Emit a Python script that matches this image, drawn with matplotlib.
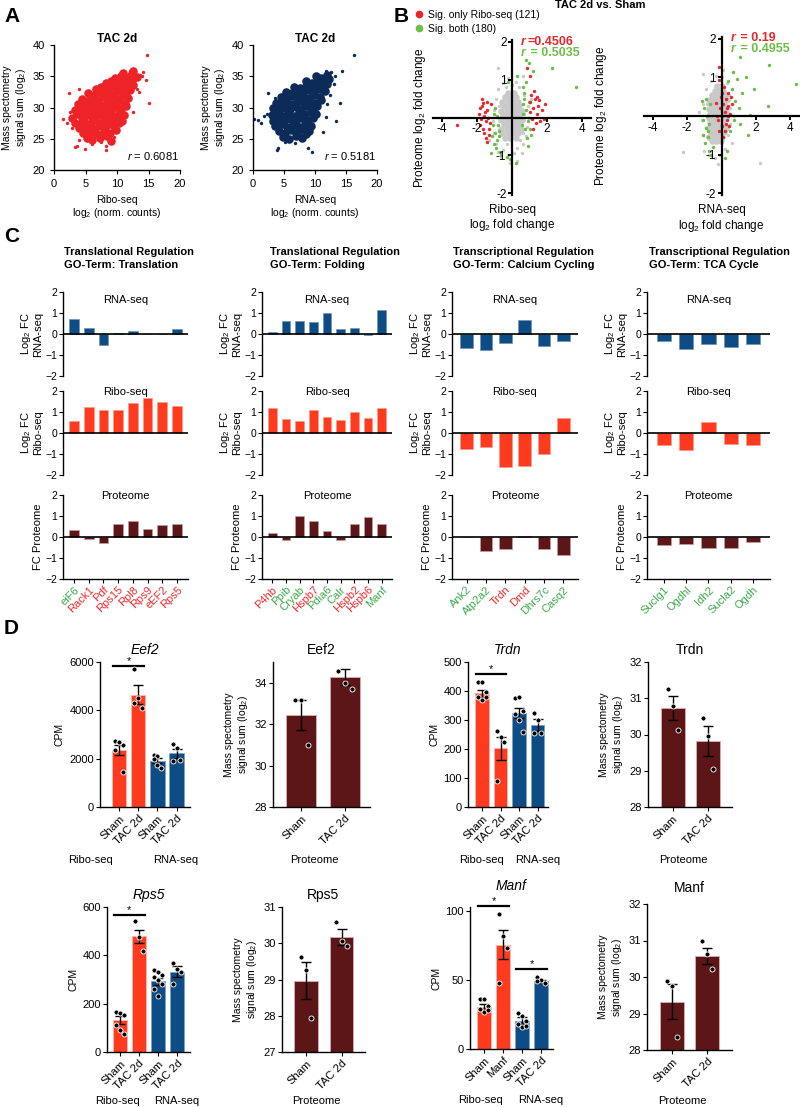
import numpy as np
import matplotlib.pyplot as plt
from matplotlib.lines import Line2D

plt.rcParams["font.family"] = ["Liberation Sans", "DejaVu Sans"]
plt.rcParams["mathtext.fontset"] = "custom"
plt.rcParams["mathtext.rm"] = "Liberation Sans"
plt.rcParams["mathtext.it"] = "Liberation Sans:italic"
plt.rcParams["mathtext.bf"] = "Liberation Sans:bold"
plt.rcParams["mathtext.bfit"] = "Liberation Sans:bold:italic"
plt.rcParams["axes.linewidth"] = 1.0

# ── colours ────────────────────────────────────────────────
RED = "#FF3B1F"
BLUE = "#0E4C85"
MAROON = "#5C1618"
SC_RED = "#EE2327"
SC_NAVY = "#0D2B58"
GREY = "#C9C9C9"
SIG_RED = "#E8262B"
SIG_GREEN = "#6CBE45"
TXT_GREEN = "#3BAA4A"
TXT_RED = "#EE2B2B"

# ── A: proteome vs Ribo-seq / RNA-seq (x,y pairs) ──
ribo_core = """5.2,25.1 6.1,24.8 7.3,25.2 8.4,25.4 9.0,24.6 4.6,25.9 5.7,26.0 6.8,25.7 7.9,26.1 8.9,26.0 9.8,26.4
3.9,26.7 4.9,26.5 5.6,27.0 6.4,26.6 7.2,27.1 8.1,26.8 8.8,27.3 9.6,27.0 10.3,27.5 3.3,27.6 4.1,27.3 4.8,27.9
5.9,27.5 6.7,28.0 7.6,27.6 8.3,28.1 9.2,27.8 10.0,28.3 10.8,27.9 2.9,28.4 3.7,28.9 4.5,28.3 5.2,28.8 6.1,28.5
6.9,29.0 7.8,28.6 8.6,29.1 9.4,28.7 10.3,29.2 11.1,28.8 3.4,29.6 4.2,29.3 5.0,29.8 5.8,29.4 6.6,29.9 7.4,29.5
8.2,30.0 9.0,29.6 9.9,30.1 10.7,29.7 11.5,30.2 3.8,30.5 4.6,30.2 5.4,30.7 6.2,30.3 7.0,30.8 7.9,30.4 8.7,30.9
9.5,30.5 10.3,31.0 11.2,30.6 4.5,31.4 5.3,31.1 6.1,31.6 6.9,31.2 7.7,31.7 8.5,31.3 9.3,31.8 10.1,31.4 10.9,31.9
11.8,31.5 5.4,32.3 6.3,32.0 7.1,32.5 7.9,32.1 8.8,32.6 9.6,32.2 10.4,32.7 11.3,32.3 12.1,32.8 6.6,33.0 7.5,33.3
8.3,32.9 9.1,33.4 10.0,33.0 10.8,33.5 11.7,33.1 12.5,33.6 8.2,33.9 9.1,34.2 9.9,33.8 10.7,34.3 11.6,34.0
12.4,34.4 9.7,34.7 10.6,35.0 11.4,34.7 12.2,35.2 13.1,34.9 11.0,35.6 12.6,35.8"""
ribo_outliers = """14.8,38.4 15.0,30.8 1.4,28.1 2.4,32.4 3.3,23.7 4.9,23.3 8.2,23.2 8.2,23.8 14.2,35.7 14.6,34.4
12.1,35.9 12.9,35.5 13.6,35.2 11.5,31.2 12.6,29.3 11.0,32.3 2.5,29.3 2.9,26.8 3.9,24.8 6.0,24.2 7.4,24.5
9.6,25.3 13.2,33.0 14.0,35.0 13.5,32.5 2.0,27.5 4.0,33.0 3.6,23.8"""
rna_core = """4.8,25.3 5.8,25.0 6.9,25.4 7.9,25.1 8.6,25.8 4.2,26.2 5.2,26.0 6.2,26.4 7.2,26.1 8.2,26.5 9.1,26.3
3.6,27.0 4.6,27.3 5.5,26.9 6.5,27.2 7.5,26.9 8.4,27.4 9.4,27.1 3.2,27.9 4.1,28.1 5.0,27.8 6.0,28.2 6.9,27.9
7.9,28.3 8.8,28.0 9.7,28.4 3.0,28.8 3.9,29.1 4.8,28.7 5.7,29.0 6.6,28.7 7.5,29.2 8.4,28.9 9.3,29.3 10.2,29.0
3.3,29.9 4.2,29.6 5.1,30.0 6.0,29.7 6.9,30.1 7.8,29.8 8.7,30.2 9.6,29.9 10.4,30.3 3.7,30.8 4.6,30.5 5.5,30.9
6.4,30.6 7.3,31.0 8.2,30.7 9.1,31.1 10.0,30.8 10.9,31.2 4.5,31.7 5.4,31.4 6.3,31.8 7.2,31.5 8.1,31.9 9.0,31.6
9.9,32.0 10.8,31.7 5.3,32.5 6.3,32.3 7.2,32.7 8.1,32.4 9.0,32.8 9.9,32.5 10.8,32.9 11.6,32.6 6.6,33.3 7.6,33.1
8.5,33.5 9.4,33.2 10.3,33.6 11.2,33.3 12.0,33.7 8.6,34.2 9.5,34.0 10.4,34.4 11.3,34.1 12.2,34.5 10.1,35.0
11.0,34.8 11.9,35.2"""
rna_outliers = """16.3,38.4 14.3,35.8 14.1,30.7 13.4,27.9 11.3,26.1 8.8,23.5 9.5,22.9 4.0,23.6 3.9,23.2 2.4,32.4
0.8,28.0 0.1,28.1 1.3,27.5 12.6,35.7 11.7,35.9 13.3,35.0 2.2,29.0 1.8,28.6 12.5,32.0 12.0,30.5 6.8,24.3
5.2,24.5 3.5,31.6 11.8,28.5 13.0,33.8"""

# ── B: log2 fold changes, proteome vs Ribo-seq / RNA-seq ──
bl_grey_core = """-0.4,-0.55 -0.1,-0.55 0.2,-0.55 -0.55,-0.42 -0.25,-0.42 0.05,-0.42 0.35,-0.42 -0.6,-0.30 -0.3,-0.30
0.0,-0.30 0.3,-0.30 0.5,-0.30 -0.45,-0.18 -0.15,-0.18 0.15,-0.18 0.4,-0.18 -0.6,-0.06 -0.3,-0.06 0.0,-0.06
0.28,-0.06 0.55,-0.06 -0.5,0.06 -0.2,0.06 0.1,0.06 0.4,0.06 -0.6,0.18 -0.3,0.18 0.0,0.18 0.3,0.18 0.55,0.18
-0.45,0.30 -0.15,0.30 0.15,0.30 0.42,0.30 -0.55,0.42 -0.25,0.42 0.05,0.42 0.35,0.42 -0.4,0.54 -0.1,0.54
0.2,0.54 -0.2,0.66 0.1,0.66"""
bl_grey_halo = """-0.9,-0.7 -0.8,-0.9 -0.5,-0.85 -0.2,-1.0 0.1,-0.95 0.3,-0.8 0.6,-0.7 0.8,-0.5 -1.0,-0.4 -1.1,-0.1
-1.0,0.2 -0.9,0.5 -0.8,0.75 -0.5,0.9 -0.2,1.05 0.2,0.95 0.4,0.8 0.7,0.6 0.9,0.3 0.95,0.0 0.85,-0.25
-0.78,1.32 -0.35,0.8 0.55,-0.95 -0.65,-1.05 0.3,-1.15 -0.1,-1.2 1.1,0.5 -1.3,-0.6 0.6,1.1 -0.7,-0.3 0.7,0.1
-0.75,0.3 0.65,-0.4 -0.3,-0.7 0.0,0.85 0.45,-0.6"""
bl_red = """-1.9,0.1 -1.7,0.3 -1.6,0.05 -1.5,-0.1 -1.8,-0.2 -1.4,0.2 -1.3,-0.3 -1.6,-0.4 -1.5,-0.55 -1.75,-0.05
-1.35,0.0 -1.45,0.4 -1.25,-0.15 -1.55,0.15 -1.65,-0.3 -1.4,-0.65 -1.2,0.35 -1.7,0.5 -1.64,0.39 -3.16,-0.2
-1.3,-0.45 -1.85,0.25 1.1,0.6 1.3,0.5 1.5,0.3 1.2,0.25 1.4,0.1 1.6,-0.1 1.05,0.4 1.7,0.2 1.25,0.7 1.45,0.55
1.8,-0.05 1.35,-0.15 1.0,0.15 1.55,0.45 1.15,-0.05 0.84,1.32 1.03,1.1 1.9,0.35 1.2,-0.3"""
bl_green = """-1.1,-0.2 -0.95,-0.4 -1.05,0.1 -0.85,-0.6 -0.9,-0.8 -0.75,-0.5 -1.0,-0.7 -0.8,-0.2 -0.7,-0.9
-0.95,0.25 -1.15,-0.5 -0.85,0.05 -0.6,-1.0 -1.2,-0.95 -0.75,-0.35 0.6,0.8 0.7,0.5 0.8,0.2 0.9,-0.1
0.75,-0.3 0.95,0.4 0.65,0.1 0.85,-0.55 1.0,-0.3 0.7,0.65 0.55,-0.2 1.1,-0.45 0.8,0.95 0.9,-0.75 0.6,0.35
0.8,1.51 0.99,1.45 2.27,1.32 3.66,0.81 1.22,1.23 0.3,1.1 -0.2,0.95 0.2,-1.2 -0.3,-1.05 -0.1,-1.1"""
br_grey_core = """-0.55,-0.66 -0.3,-0.66 -0.05,-0.66 -0.7,-0.54 -0.45,-0.54 -0.2,-0.54 0.05,-0.54 -0.6,-0.42 -0.35,-0.42
-0.1,-0.42 0.15,-0.42 -0.75,-0.30 -0.5,-0.30 -0.25,-0.30 0.0,-0.30 0.25,-0.30 -0.65,-0.18 -0.4,-0.18
-0.15,-0.18 0.1,-0.18 -0.75,-0.06 -0.5,-0.06 -0.25,-0.06 0.0,-0.06 0.25,-0.06 -0.65,0.06 -0.4,0.06
-0.15,0.06 0.1,0.06 0.3,0.06 -0.75,0.18 -0.5,0.18 -0.25,0.18 0.0,0.18 0.25,0.18 -0.6,0.30 -0.35,0.30
-0.1,0.30 0.15,0.30 -0.7,0.42 -0.45,0.42 -0.2,0.42 0.05,0.42 0.3,0.42 -0.55,0.54 -0.3,0.54 -0.05,0.54
0.2,0.54 -0.4,0.66 -0.15,0.66 0.1,0.66 -0.25,0.78 0.0,0.78"""
br_grey_halo = """-1.0,-0.9 -0.7,-1.0 -0.4,-1.1 -0.1,-1.0 0.2,-0.85 0.4,-0.5 0.5,-0.2 0.5,0.2 0.45,0.55 0.3,0.85
0.05,1.0 -0.3,1.05 -0.6,0.9 -0.9,0.7 -1.05,0.3 -1.15,-0.1 -1.1,-0.5 -1.1,1.08 -2.26,-0.94 2.25,-1.23
-0.2,-1.25 0.1,1.2 0.7,0.0 -1.3,0.1 0.6,-0.7 -0.9,-0.3 -0.85,0.3"""
br_red = """0.0,0.0 0.2,0.1 0.1,0.3 0.3,-0.1 -0.1,0.2 0.25,0.45 0.4,0.25 0.05,-0.25 0.35,0.6 -0.2,-0.1 0.15,0.75
0.5,0.05 -0.05,0.5 0.2,-0.4 0.45,-0.25 -0.3,0.35 0.6,0.3 0.1,-0.55 -0.13,1.28 -0.13,0.93 0.3,0.2
-0.15,-0.4 0.0,0.6 0.25,-0.2 0.55,0.5 -0.25,0.0 0.35,0.0"""
br_green = """-1.1,-0.1 -0.9,-0.3 -1.0,0.2 -0.8,-0.55 -0.95,-0.7 -0.75,-0.9 -0.85,0.0 -1.15,0.4 -0.7,-0.2
-0.9,0.45 -0.6,-1.0 -0.8,-0.4 -1.05,-0.5 -0.5,-0.8 -0.65,0.3 0.4,0.9 0.6,0.7 0.8,0.4 1.0,0.2 0.7,-0.1
0.9,0.95 1.2,0.6 0.5,-0.4 1.1,-0.2 0.65,1.15 1.08,1.52 2.73,1.32 4.33,0.82 2.68,0.27 1.51,-0.49
1.63,0.03 1.4,1.0 0.3,-0.9 0.2,-1.1 1.9,0.7"""

# ── C: log2 fold changes per GO term ──
c_titles = ["Translational Regulation\nGO-Term: Translation",
            "Translational Regulation\nGO-Term: Folding",
            "Transcriptional Regulation\nGO-Term: Calcium Cycling",
            "Transcriptional Regulation\nGO-Term: TCA Cycle"]

genes_translation = ["eiF6", "Rack1", "Pdf", "Rps15", "Rpl8", "Rps9", "eEF2", "Rps5"]
sig_translation = ["g", "r", "r", "r", "r", "r", "r", "r"]
rna_translation = [0.7, 0.3, -0.5, 0.05, 0.15, 0.0, 0.0, 0.22]
ribo_translation = [0.55, 1.22, 1.1, 1.1, 1.42, 1.65, 1.48, 1.28]
prot_translation = [0.32, -0.1, -0.28, 0.6, 0.78, 0.38, 0.58, 0.6]

genes_folding = ["P4hb", "Ppib", "Cryab", "Hspb7", "Pdia6", "Calr", "Hspb2", "Hspb6", "Manf"]
sig_folding = ["r", "g", "g", "r", "g", "g", "r", "r", "g"]
rna_folding = [0.1, 0.6, 0.6, 0.58, 1.02, 0.22, 0.28, -0.05, 1.15]
ribo_folding = [1.2, 0.68, 0.58, 1.08, 0.76, 0.62, 1.0, 0.7, 1.18]
prot_folding = [0.2, -0.12, 1.0, 0.75, 0.3, -0.15, 0.6, 0.97, 0.62]

genes_calcium = ["Ank2", "Atp2a2", "Trdn", "Dmd", "Dhrs7c", "Casq2"]
sig_calcium = ["g", "g", "r", "r", "g", "g"]
rna_calcium = [-0.68, -0.78, -0.42, 0.65, -0.55, -0.35]
ribo_calcium = [-0.75, -0.65, -1.6, -1.55, -1.02, 0.72]
prot_calcium = [0.02, -0.65, -0.58, 0.05, -0.55, -0.88]

genes_tca = ["Suclg1", "Ogdhl", "Idh2", "Sucla2", "Ogdh"]
sig_tca = ["g", "g", "g", "g", "g"]
rna_tca = [-0.35, -0.7, -0.48, -0.6, -0.48]
ribo_tca = [-0.58, -0.8, 0.52, -0.5, -0.58]
prot_tca = [-0.4, -0.35, -0.5, -0.52, -0.25]

# ── D: CPM / proteome per gene ──
seq_labels = ["Sham", "TAC 2d", "Sham", "TAC 2d"]
manf_labels = ["Sham", "Manf", "Sham", "TAC 2d"]
prot_labels = ["Sham", "TAC 2d"]

eef2_cpm = [2350, 4650, 1920, 2220]
eef2_cpm_sem = [200, 380, 100, 200]
eef2_cpm_pts = [[2750, 2700, 2550, 2350, 2700, 1450], [5700, 4500, 4100, 4300],
                [2150, 2100, 1600, 2000, 1750], [2600, 2450, 1950, 1900]]
eef2_prot = [32.45, 34.27]
eef2_prot_sem = [0.72, 0.38]
eef2_prot_pts = [[33.15, 33.15, 31.0], [34.55, 34.0, 33.7]]

trdn_cpm = [392, 202, 325, 283]
trdn_cpm_sem = [12, 40, 18, 20]
trdn_cpm_pts = [[430, 430, 395, 380, 370, 378], [262, 240, 225, 88],
                [375, 380, 330, 320, 300, 260], [325, 300, 255, 255]]
trdn_prot = [30.72, 29.82]
trdn_prot_sem = [0.33, 0.42]
trdn_prot_pts = [[31.25, 30.8, 30.12], [30.45, 29.95, 29.05]]

rps5_cpm = [133, 478, 293, 333]
rps5_cpm_sem = [18, 25, 15, 22]
rps5_cpm_pts = [[165, 160, 155, 110, 90, 75], [541, 476, 418],
                [340, 330, 320, 310, 300, 280, 260, 230], [370, 345, 330, 280]]
rps5_prot = [28.97, 30.17]
rps5_prot_sem = [0.5, 0.22]
rps5_prot_pts = [[29.62, 29.25, 27.95], [30.58, 30.05, 29.92]]

manf_cpm = [30.5, 75.5, 20.5, 49]
manf_cpm_sem = [2, 10.5, 2.5, 1.2]
manf_cpm_pts = [[36, 36, 31, 29, 27, 28], [98, 82, 73, 48], [26, 24, 20, 18, 16, 17], [52, 50, 48, 49]]
manf_prot = [29.32, 30.58]
manf_prot_sem = [0.48, 0.22]
manf_prot_pts = [[29.88, 29.75, 28.35], [30.98, 30.62, 30.22]]

W, H = 800, 1107
fig = plt.figure(figsize=(W / 100, H / 100), dpi=100)


def px_axes(x0, y0, x1, y1):
    return fig.add_axes([x0 / W, 1 - y1 / H, (x1 - x0) / W, (y1 - y0) / H])


def pairs(s):
    a = np.array([p.split(",") for p in s.split()], dtype=float)
    return a[:, 0], a[:, 1]


def panel_letter(x, y, s):
    fig.text(x / W, 1 - y / H, s, fontsize=15, fontweight="bold", va="center")


# ── A ──────────────────────────────────────────────────────
panel_letter(4, 17, "A")
for box, core, outl, color, r, xlab in [
    ((54, 45, 180, 170), ribo_core, ribo_outliers, SC_RED, "0.6081", "Ribo-seq\nlog$_2$ (norm. counts)"),
    ((253, 45, 377, 170), rna_core, rna_outliers, SC_NAVY, "0.5181", "RNA-seq\nlog$_2$ (norm. counts)"),
]:
    ax = px_axes(*box)
    cx, cy = pairs(core)
    ox, oy = pairs(outl)
    ax.scatter(cx, cy, s=38, c=color, lw=0)
    ax.scatter(ox, oy, s=6, c=color, lw=0)
    ax.set_xlim(0, 20)
    ax.set_ylim(20, 40)
    ax.set_xticks([0, 5, 10, 15, 20])
    ax.set_yticks([20, 25, 30, 35, 40])
    for sp in ["top", "right"]:
        ax.spines[sp].set_visible(False)
    ax.tick_params(labelsize=8, length=3)
    ax.set_title("TAC 2d", fontsize=8.5, fontweight="bold", pad=1)
    ax.set_ylabel("Mass spectometry\nsignal sum (log$_2$)", fontsize=7.5, labelpad=3)
    ax.set_xlabel(xlab, fontsize=7.5, labelpad=4, linespacing=1.1)
    ax.text(0.99, 0.08, "$r$ = " + r, transform=ax.transAxes, ha="right", fontsize=8)

# ── B ──────────────────────────────────────────────────────
panel_letter(394, 17, "B")
fig.text(600 / W, 1 - 5 / H, "TAC 2d vs. Sham", fontsize=8, fontweight="bold", ha="center", va="center")
handles = [Line2D([], [], ls="none", marker="o", ms=4.5, color=SIG_RED, label="Sig. only Ribo-seq (121)"),
           Line2D([], [], ls="none", marker="o", ms=4.5, color=SIG_GREEN, label="Sig. both (180)")]
fig.legend(handles=handles, loc="upper left", bbox_to_anchor=(415 / W, 1 - 10 / H), frameon=False,
           fontsize=7.5, handletextpad=0.4, borderpad=0, borderaxespad=0, labelspacing=0.35,
           handlelength=0.8)

for box, gcore, ghalo, red, green, xlab, r_red, r_green, rx, ry, lab_x in [
    ((433, 40, 591, 195), bl_grey_core, bl_grey_halo, bl_red, bl_green,
     "Ribo-seq\nlog$_2$ fold change", "=0.4506", " = 0.5035", 520, 42, -0.03),
    ((644, 37, 799, 195), br_grey_core, br_grey_halo, br_red, br_green,
     "RNA-seq\nlog$_2$ fold change", " = 0.19", " = 0.4955", 730, 38, -0.225),
]:
    ax = px_axes(*box)
    x, y = pairs(gcore)
    ax.scatter(x, y, s=22, c=GREY, lw=0)
    x, y = pairs(ghalo)
    ax.scatter(x, y, s=6, c=GREY, lw=0)
    x, y = pairs(green)
    ax.scatter(x, y, s=6, c=SIG_GREEN, lw=0)
    x, y = pairs(red)
    ax.scatter(x, y, s=6, c=SIG_RED, lw=0)
    ax.set_xlim(-4.5, 4.5)
    ax.set_ylim(-2.05, 2.05)
    ax.spines["left"].set_position(("data", 0))
    ax.spines["bottom"].set_position(("data", 0))
    for sp in ["top", "right"]:
        ax.spines[sp].set_visible(False)
    for sp in ["left", "bottom"]:
        ax.spines[sp].set_linewidth(1.6)
        ax.spines[sp].set_zorder(5)
    ax.set_xticks([-4, -2, 2, 4])
    ax.set_yticks([-2, -1, 1, 2])
    ax.set_xticklabels(["-4", "-2", "2", "4"])
    ax.set_yticklabels(["-2", "-1", "1", "2"])
    ax.tick_params(labelsize=8.5, length=3, width=1.4, pad=1)
    ax.set_ylabel("Proteome log$_2$ fold change", fontsize=8.5)
    ax.yaxis.set_label_coords(lab_x, 0.5)
    ax.text(0.5, -0.06, xlab, transform=ax.transAxes, ha="center", va="top", fontsize=8.5,
            linespacing=1.1)
    for txt, col, dy in [(r_red, SIG_RED, 0), (r_green, SIG_GREEN, 11)]:
        t = fig.text(rx / W, 1 - (ry + dy) / H, r"$\mathbfit{r}$", color=col, fontsize=9, va="center")
        ax.annotate(txt, xy=(1, 0.5), xycoords=t, va="center", color=col, fontsize=9, fontweight="bold")

# ── C ──────────────────────────────────────────────────────
panel_letter(4, 237, "C")
col_boxes = [(63, 188), (262, 392), (452, 578), (647, 770)]
title_x = [64, 270, 453, 649]
row_boxes = [(292, 376), (391, 475), (495, 579)]
row_names = ["RNA-seq", "Ribo-seq", "Proteome"]
row_name_y = [0.9, 0.99, 0.99]
row_ylabels = ["Log$_2$ FC\nRNA-seq", "Log$_2$ FC\nRibo-seq", "FC Proteome"]
row_colors = [BLUE, RED, MAROON]
row_edges = ["#6f93b8", "#ff9a8a", "#c99a9a"]
c_cols = [
    (genes_translation, sig_translation, [rna_translation, ribo_translation, prot_translation]),
    (genes_folding, sig_folding, [rna_folding, ribo_folding, prot_folding]),
    (genes_calcium, sig_calcium, [rna_calcium, ribo_calcium, prot_calcium]),
    (genes_tca, sig_tca, [rna_tca, ribo_tca, prot_tca]),
]
for ci, (genes, sig, rows) in enumerate(c_cols):
    fig.text(title_x[ci] / W, 1 - 247 / H, c_titles[ci], fontsize=8, fontweight="bold",
             va="top", ha="left", linespacing=1.35)
    n = len(genes)
    x = np.arange(n)
    for ri, vals in enumerate(rows):
        ax = px_axes(col_boxes[ci][0], row_boxes[ri][0], col_boxes[ci][1], row_boxes[ri][1])
        ax.bar(x, vals, width=0.65, color=row_colors[ri], edgecolor=row_edges[ri], lw=0.5, zorder=2)
        ax.axhline(0, color="black", lw=1.2, zorder=3)
        ax.set_xlim(-0.75, n - 0.25)
        ax.set_ylim(-2, 2)
        ax.set_yticks([-2, -1, 0, 1, 2])
        for sp in ["top", "right"]:
            ax.spines[sp].set_visible(False)
        ax.tick_params(axis="y", labelsize=7.5, length=3, pad=1)
        ax.text(0.5, row_name_y[ri], row_names[ri], transform=ax.transAxes, ha="center",
                va="center", fontsize=8)
        ax.set_ylabel(row_ylabels[ri], fontsize=8, labelpad=2, linespacing=1.0)
        if ri < 2:
            ax.spines["bottom"].set_visible(False)
            ax.set_xticks([])
        else:
            ax.set_xticks(x)
            ax.set_xticklabels(genes, rotation=45, ha="right", rotation_mode="anchor", fontsize=8)
            ax.tick_params(axis="x", length=3, pad=1)
            for lab, s in zip(ax.get_xticklabels(), sig):
                lab.set_color(TXT_GREEN if s == "g" else TXT_RED)

# ── D ──────────────────────────────────────────────────────
panel_letter(4, 628, "D")


def spread(n, w):
    return (np.arange(n) % 3 - 1) * w


def bar_panel(box, means, sems, pts, colors, edges, labels, title, italic, ylim, yticks, xlim,
              ylabel, sigs, groups, w, spread_w, group_off, title_pad=6):
    ax = px_axes(*box)
    x = np.arange(len(means))
    ax.bar(x, means, width=w, color=colors, edgecolor=edges, lw=0.7, zorder=1)
    ax.errorbar(x, means, yerr=sems, fmt="none", ecolor="black", elinewidth=1, capsize=3.5,
                capthick=1, zorder=3)
    for i, p in enumerate(pts):
        ax.scatter(i + spread(len(p), spread_w), p, s=13, c="black", edgecolors="white",
                   linewidths=0.6, zorder=4, clip_on=False)
    for a, b, h in sigs:
        ax.plot([a - 0.3, b + 0.3], [h, h], color="black", lw=1.6, clip_on=False)
        ax.text((a + b) / 2, h, "*", ha="center", va="bottom", fontsize=8)
    ax.set_xlim(*xlim)
    ax.set_ylim(*ylim)
    ax.set_yticks(yticks)
    ax.set_xticks(x)
    ax.set_xticklabels(labels, rotation=45, ha="right", rotation_mode="anchor", fontsize=8)
    for sp in ["top", "right"]:
        ax.spines[sp].set_visible(False)
    ax.tick_params(labelsize=8, length=3, pad=1.5)
    ax.set_title(title, fontsize=10, style="italic" if italic else "normal", pad=title_pad)
    ax.set_ylabel(ylabel, fontsize=7.5, labelpad=3)
    for label, pos in groups:
        ax.annotate(label, xy=(pos, 0), xycoords=("data", "axes fraction"), xytext=(0, group_off),
                    textcoords="offset points", ha="center", va="center", fontsize=8)
    return ax


seq_colors = [RED, RED, BLUE, BLUE]
seq_edges = ["#ffb3a6", "#ffb3a6", "#7fa3c8", "#7fa3c8"]
prot_colors = [MAROON, MAROON]
prot_edges = ["#d9a8a8", "#d9a8a8"]
ms_label = "Mass spectometry\nsignal sum (log$_2$)"
prot_groups = [("Proteome", 0.3)]

bar_panel((100, 662, 190, 807), eef2_cpm, eef2_cpm_sem, eef2_cpm_pts, seq_colors, seq_edges,
          seq_labels, "Eef2", True, (0, 6000), [0, 2000, 4000, 6000], (-1.0, 3.7), "CPM",
          [(0, 1, 5850)], [("Ribo-seq", -1.5), ("RNA-seq", 2.95)], 0.75, 0.2, -38)
bar_panel((273, 662, 370, 807), eef2_prot, eef2_prot_sem, eef2_prot_pts, prot_colors, prot_edges,
          prot_labels, "Eef2", False, (28, 35), [28, 30, 32, 34], (-0.64, 1.57), ms_label,
          [], prot_groups, 0.7, 0.15, -38)
bar_panel((468, 662, 548, 807), trdn_cpm, trdn_cpm_sem, trdn_cpm_pts, seq_colors, seq_edges,
          seq_labels, "Trdn", True, (0, 500), [0, 100, 200, 300, 400, 500], (-0.75, 3.55), "CPM",
          [(0, 1, 459)], [("Ribo-seq", 0.0), ("RNA-seq", 3.0)], 0.72, 0.2, -38)
bar_panel((648, 662, 732, 807), trdn_prot, trdn_prot_sem, trdn_prot_pts, prot_colors, prot_edges,
          prot_labels, "Trdn", False, (28, 32), [28, 29, 30, 31, 32], (-0.71, 1.69), ms_label,
          [], prot_groups, 0.69, 0.15, -38)
bar_panel((107, 907, 190, 1052), rps5_cpm, rps5_cpm_sem, rps5_cpm_pts, seq_colors, seq_edges,
          seq_labels, "Rps5", True, (0, 600), [0, 200, 400, 600], (-0.68, 3.68), "CPM",
          [(0, 1, 565)], [("Ribo-seq", -0.15), ("RNA-seq", 3.0)], 0.72, 0.2, -35)
bar_panel((282, 907, 365, 1052), rps5_prot, rps5_prot_sem, rps5_prot_pts, prot_colors, prot_edges,
          prot_labels, "Rps5", False, (27, 31), [27, 28, 29, 30, 31], (-0.68, 1.66), ms_label,
          [], prot_groups, 0.66, 0.15, -35)
bar_panel((470, 907, 553, 1049), manf_cpm, manf_cpm_sem, manf_cpm_pts, seq_colors, seq_edges,
          manf_labels, "Manf", True, (0, 103), [0, 50, 100], (-0.74, 3.63), "CPM",
          [(0, 1, 103.5), (2, 3, 58)], [("Ribo-seq", -0.2), ("RNA-seq", 3.0)], 0.7, 0.2, -37,
          title_pad=12)
bar_panel((647, 904, 732, 1050), manf_prot, manf_prot_sem, manf_prot_pts, prot_colors, prot_edges,
          prot_labels, "Manf", False, (28, 32), [28, 29, 30, 31, 32], (-0.71, 1.71), ms_label,
          [], prot_groups, 0.69, 0.15, -37, title_pad=9)

fig.savefig("out.png", dpi=100)
